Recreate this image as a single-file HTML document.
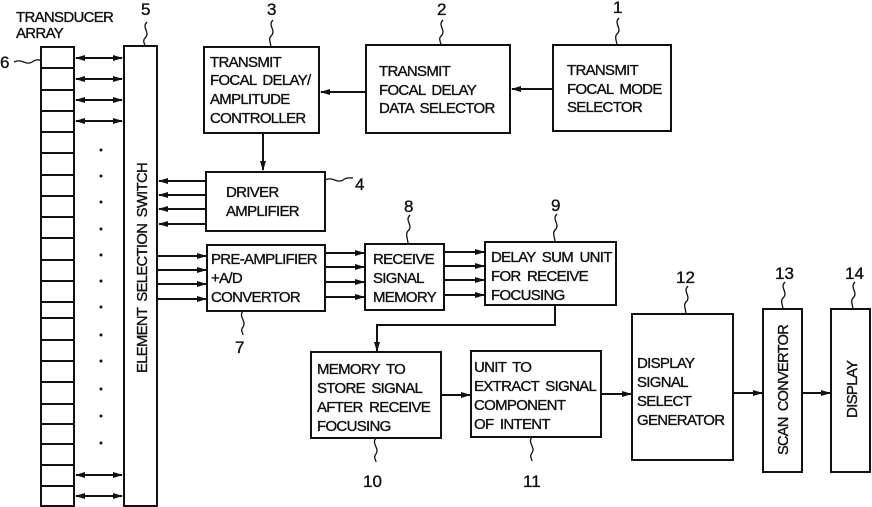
<!DOCTYPE html>
<html><head><meta charset="utf-8"><style>
html,body{margin:0;padding:0;background:#fff;}
svg{display:block;}
text{font-family:"Liberation Sans",sans-serif;font-size:15px;fill:#111;stroke:#111;stroke-width:0.35;letter-spacing:-0.7px;word-spacing:3px;}
text.n{font-size:17px;letter-spacing:0;}
</style></head><body>
<svg width="872" height="507" viewBox="0 0 872 507" xmlns="http://www.w3.org/2000/svg">
<defs>
<marker id="a" markerWidth="10" markerHeight="8" refX="9" refY="4" orient="auto" markerUnits="userSpaceOnUse"><path d="M0,1 L10,4 L0,7 Z" fill="#111"/></marker>
<marker id="s" markerWidth="10" markerHeight="8" refX="1" refY="4" orient="auto" markerUnits="userSpaceOnUse"><path d="M10,1 L0,4 L10,7 Z" fill="#111"/></marker>
</defs>
<g stroke="#111" stroke-width="2" fill="none">
<rect x="41" y="47" width="33" height="459"/>
<path d="M41,68H74M41,90H74M41,111H74M41,132H74M41,153H74M41,175H74M41,196H74M41,217H74M41,238H74M41,260H74M41,281H74M41,302H74M41,318H74M41,340H74M41,361H74M41,382H74M41,404H74M41,424H74M41,444H74M41,465H74M41,486H74"/>
<rect x="124" y="46" width="33" height="460"/>
<rect x="204" y="47" width="115" height="86"/>
<rect x="366" y="45" width="144" height="88"/>
<rect x="553" y="45" width="118" height="86"/>
<rect x="206" y="172" width="119" height="59"/>
<rect x="207" y="245" width="118" height="66"/>
<rect x="365" y="244" width="79" height="66"/>
<rect x="485" y="242" width="131" height="63"/>
<rect x="311" y="352" width="130" height="86"/>
<rect x="471" y="351" width="130" height="86"/>
<rect x="632" y="314" width="101" height="146"/>
<rect x="763" y="309" width="39" height="163"/>
<rect x="831" y="309" width="39" height="163"/>
</g>
<g stroke="#111" stroke-width="2" fill="none">
<g marker-start="url(#s)" marker-end="url(#a)">
<path d="M76,58H122"/><path d="M76,79H122"/><path d="M76,100H122"/><path d="M76,121H122"/><path d="M76,475H122"/><path d="M76,496H122"/>
</g>
<g marker-end="url(#a)">
<path d="M553,89H512"/>
<path d="M366,92H321"/>
<path d="M263,133V170"/>
<path d="M206,181H159"/><path d="M206,195H159"/><path d="M206,209H159"/><path d="M206,224H159"/>
<path d="M157,256H206"/><path d="M157,270H206"/><path d="M157,284H206"/><path d="M157,299H206"/>
<path d="M325,253H364"/><path d="M325,267H364"/><path d="M325,282H364"/><path d="M325,297H364"/>
<path d="M444,252H484"/><path d="M444,266H484"/><path d="M444,280H484"/><path d="M444,295H484"/>
<path d="M555,305V325H377V351"/>
<path d="M441,395H470"/>
<path d="M601,394H631"/>
<path d="M733,393H762"/>
<path d="M802,393H830"/>
</g>
</g>
<g stroke="#111" stroke-width="1.3" fill="none">
<path d="M147,22c-6,6 4,10 -2,16c-3,3 0,6 0,8"/>
<path d="M273,20c-6,6 4,10 -2,16c-3,3 0,8 0,11"/>
<path d="M443,20c-6,6 4,10 -2,16c-3,3 0,6 0,9"/>
<path d="M619,18c-6,6 4,10 -2,16c-3,3 0,8 0,11"/>
<path d="M14,62c8,-4 12,4 18,0c4,-3 6,-2 9,-2"/>
<path d="M325,180c8,-4 12,4 18,0c4,-3 7,-2 10,-2"/>
<path d="M410,215c-6,6 4,10 -2,16c-3,3 0,8 0,13"/>
<path d="M557,214c-6,6 4,10 -2,16c-3,3 0,8 0,12"/>
<path d="M243,311c-5,6 4,10 0,16c-3,3 0,6 0,8"/>
<path d="M376,438c-5,6 4,10 0,16c-3,3 0,6 0,8"/>
<path d="M532,437c-5,6 4,10 0,16c-3,3 0,6 0,8"/>
<path d="M688,286c-6,6 4,10 -2,16c-3,3 0,8 0,12"/>
<path d="M785,282c-6,6 4,10 -2,16c-3,3 0,8 0,11"/>
<path d="M855,282c-6,6 4,10 -2,16c-3,3 0,8 0,11"/>
</g>
<g fill="#111">
<circle cx="101" cy="150" r="1.5"/><circle cx="101" cy="176" r="1.5"/><circle cx="101" cy="202" r="1.5"/><circle cx="101" cy="229" r="1.5"/><circle cx="101" cy="255" r="1.5"/><circle cx="101" cy="281" r="1.5"/><circle cx="101" cy="307" r="1.5"/><circle cx="101" cy="335" r="1.5"/><circle cx="101" cy="361" r="1.5"/><circle cx="101" cy="389" r="1.5"/><circle cx="101" cy="416" r="1.5"/><circle cx="101" cy="443" r="1.5"/>
</g>
<text class="n" x="141" y="15">5</text>
<text class="n" x="267" y="15">3</text>
<text class="n" x="437" y="15">2</text>
<text class="n" x="613" y="13">1</text>
<text class="n" x="0" y="68">6</text>
<text class="n" x="355" y="190">4</text>
<text class="n" x="404" y="212">8</text>
<text class="n" x="551" y="211">9</text>
<text class="n" x="235" y="353">7</text>
<text class="n" x="363" y="487">10</text>
<text class="n" x="523" y="487">11</text>
<text class="n" x="676" y="283">12</text>
<text class="n" x="775" y="279">13</text>
<text class="n" x="845" y="279">14</text>
<text x="16" y="22">TRANSDUCER</text>
<text x="16" y="38">ARRAY</text>
<text x="210" y="67">TRANSMIT</text>
<text x="210" y="85">FOCAL DELAY/</text>
<text x="210" y="104">AMPLITUDE</text>
<text x="210" y="123">CONTROLLER</text>
<text x="379" y="76">TRANSMIT</text>
<text x="379" y="95">FOCAL DELAY</text>
<text x="379" y="113">DATA SELECTOR</text>
<text x="567" y="75">TRANSMIT</text>
<text x="567" y="94">FOCAL MODE</text>
<text x="567" y="112">SELECTOR</text>
<text x="226" y="197">DRIVER</text>
<text x="226" y="216">AMPLIFIER</text>
<text x="211" y="264">PRE-AMPLIFIER</text>
<text x="211" y="283">+A/D</text>
<text x="211" y="302">CONVERTOR</text>
<text x="373" y="264">RECEIVE</text>
<text x="373" y="283">SIGNAL</text>
<text x="373" y="302">MEMORY</text>
<text x="491" y="262">DELAY SUM UNIT</text>
<text x="491" y="281">FOR RECEIVE</text>
<text x="491" y="300">FOCUSING</text>
<text x="317" y="374">MEMORY TO</text>
<text x="317" y="393">STORE SIGNAL</text>
<text x="317" y="412">AFTER RECEIVE</text>
<text x="317" y="431">FOCUSING</text>
<text x="474" y="372">UNIT TO</text>
<text x="474" y="391">EXTRACT SIGNAL</text>
<text x="474" y="410">COMPONENT</text>
<text x="474" y="429">OF INTENT</text>
<text x="637" y="368">DISPLAY</text>
<text x="637" y="387">SIGNAL</text>
<text x="637" y="406">SELECT</text>
<text x="637" y="425">GENERATOR</text>
<text transform="translate(147,373) rotate(-90)" textLength="210" lengthAdjust="spacingAndGlyphs">ELEMENT SELECTION SWITCH</text>
<text transform="translate(788,455) rotate(-90)" textLength="130" lengthAdjust="spacingAndGlyphs">SCAN CONVERTOR</text>
<text transform="translate(857,418) rotate(-90)">DISPLAY</text>
</svg>
</body></html>
